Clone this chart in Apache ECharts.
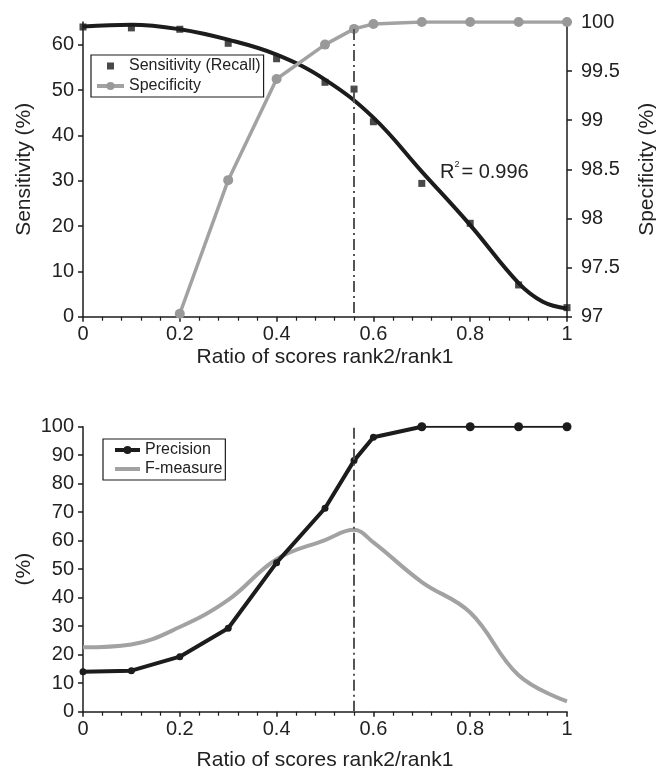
<!DOCTYPE html>
<html>
<head>
<meta charset="UTF-8">
<script src="https://cdn.jsdelivr.net/npm/echarts@6/dist/echarts.min.js"></script>
<style>
	html, body { margin: 0; padding: 0; background: #fff; }
	#main { width: 656px; height: 769px; }
</style>
<title>Sensitivity / Specificity / Precision</title>
</head>
<body>
<div id="main"></div>
<script type="text/javascript">
	// ratio of scores rank2/rank1
	var ratio = [0, 0.1, 0.2, 0.3, 0.4, 0.5, 0.56, 0.6, 0.7, 0.8, 0.9, 1];
	var sensitivity = [63.9, 63.7, 63.4, 60.3, 56.9, 51.7, 50.2, 43.0, 29.4, 20.6, 7.0, 2.0];
	var specificity = [null, null, 97.03, 98.39, 99.42, 99.77, 99.93, 99.98, 100, 100, 100, 100];
	var precision = [14.0, 14.4, 19.3, 29.3, 52.3, 71.4, 88.1, 96.3, 100, 100, 100, 100];
	var fmeasure = [22.6, 23.6, 29.7, 39.2, 53.5, 60.2, 63.8, 59.4, 45.5, 34.8, 12.8, 3.6];
	// fitted trend of sensitivity
	var fitX = [0, 0.1, 0.2, 0.3, 0.4, 0.5, 0.6, 0.7, 0.8, 0.9, 0.95, 1];
	var fitY = [64.0, 64.4, 63.4, 61.1, 57.8, 52.3, 43.9, 32.0, 20.2, 7.4, 3.3, 1.8];
	var cutoff = 0.56;
	var xTicks = [0, 0.2, 0.4, 0.6, 0.8, 1];
	var sensTicks = [0, 10, 20, 30, 40, 50, 60];

	function pairs(xs, ys) {
		var out = [];
		for (var i = 0; i < xs.length; i++) {
			if (ys[i] != null) out.push([xs[i], ys[i]]);
		}
		return out;
	}

	var FONT = '"Liberation Sans", Arial, Helvetica, sans-serif';
	var BLACK = '#1c1c1c';
	var GREY = '#a2a2a2';
	var axisLine = { show: true, lineStyle: { color: BLACK, width: 1.5 } };
	var label = { color: '#222', fontSize: 20, fontFamily: FONT };
	var nameStyle = { color: '#222', fontSize: 21, fontFamily: FONT };
	// small square marker inside a wider box, so the legend keeps it small
	var squareIcon = 'path://M0,0M10,10M1.5,1.5h7v7h-7z';
	// plain line, no marker
	var lineIcon = 'path://M0,0h25v4h-25z';

	function xAxisFor(grid, gap) {
		return {
			type: 'value', gridIndex: grid, min: 0, max: 1, interval: 0.2,
			name: 'Ratio of scores rank2/rank1', nameLocation: 'middle', nameGap: gap,
			nameTextStyle: nameStyle,
			axisLine: axisLine,
			axisTick: { show: true, length: 5, lineStyle: { color: BLACK, width: 1.5 } },
			minorTick: { show: true, splitNumber: 5, length: 4, lineStyle: { color: BLACK, width: 1.2 } },
			axisLabel: Object.assign({ margin: 8, customValues: xTicks }, label),
			splitLine: { show: false }
		};
	}

	var myChart = echarts.init(document.getElementById('main'));
	var cutIdx = ratio.indexOf(cutoff);

	var option = {
		animation: false,
		backgroundColor: '#fff',
		textStyle: { fontFamily: FONT },
		grid: [
			{ left: 83, right: 89, top: 22, height: 294.7, outerBoundsMode: 'none', containLabel: false },
			{ left: 83, right: 89, top: 426.7, height: 285, outerBoundsMode: 'none', containLabel: false }
		],
		legend: [
			{
				orient: 'vertical', left: 91, top: 55,
				data: [
					{ name: 'Sensitivity (Recall)', icon: squareIcon },
					{ name: 'Specificity', lineStyle: { width: 4 } }
				],
				borderColor: BLACK, borderWidth: 1.2, borderRadius: 0,
				padding: [3, 3, 3, 4], itemWidth: 27, itemHeight: 10, itemGap: 4, itemTextGap: 4,
				textStyle: { color: '#222', fontSize: 16, fontFamily: FONT },
				selectedMode: false
			},
			{
				orient: 'vertical', left: 103, top: 439,
				data: [
					{ name: 'Precision', lineStyle: { width: 4 } },
					{ name: 'F-measure', icon: lineIcon }
				],
				borderColor: BLACK, borderWidth: 1.2, borderRadius: 0,
				padding: [3, 3, 3, 10], itemWidth: 25, itemHeight: 10, itemGap: 3, itemTextGap: 10,
				textStyle: { color: '#222', fontSize: 16, fontFamily: FONT },
				selectedMode: false
			}
		],
		xAxis: [xAxisFor(0, 30), xAxisFor(1, 38)],
		yAxis: [
			{
				type: 'value', gridIndex: 0, min: 0, max: 65,
				name: 'Sensitivity (%)', nameLocation: 'middle', nameGap: 48, nameTextStyle: nameStyle,
				axisLine: axisLine,
				axisTick: { show: true, length: 5, customValues: sensTicks, lineStyle: { color: BLACK, width: 1.5 } },
				axisLabel: Object.assign({ margin: 9, customValues: sensTicks }, label),
				splitLine: { show: false }
			},
			{
				type: 'value', gridIndex: 0, position: 'right', min: 97, max: 100, interval: 0.5,
				name: 'Specificity (%)', nameLocation: 'middle', nameGap: 70, nameTextStyle: nameStyle,
				axisLine: axisLine,
				axisTick: { show: true, length: 5, lineStyle: { color: BLACK, width: 1.5 } },
				axisLabel: Object.assign({ margin: 14 }, label),
				splitLine: { show: false }
			},
			{
				type: 'value', gridIndex: 1, min: 0, max: 100, interval: 10,
				name: '(%)', nameLocation: 'middle', nameGap: 48, nameMoveOverlap: false,
				nameTextStyle: nameStyle,
				axisLine: axisLine,
				axisTick: { show: true, length: 5, lineStyle: { color: BLACK, width: 1.5 } },
				axisLabel: Object.assign({ margin: 9 }, label),
				splitLine: { show: false }
			}
		],
		graphic: [{
			type: 'text', left: 440, top: 160,
			style: {
				text: '{r|R}{s|2}{r|= 0.996}',
				rich: {
					r: { fontSize: 20, fontFamily: FONT, fill: '#222', lineHeight: 24 },
					s: { fontSize: 9, fontFamily: FONT, fill: '#222', verticalAlign: 'top', padding: [0, 2, 0, 0] }
				}
			}
		}],
		series: [
			{
				name: 'Fit', type: 'line', xAxisIndex: 0, yAxisIndex: 0,
				data: pairs(fitX, fitY), smooth: 0.4, symbol: 'none',
				lineStyle: { color: BLACK, width: 4 }, z: 2
			},
			{
				name: 'Sensitivity (Recall)', type: 'scatter', xAxisIndex: 0, yAxisIndex: 0,
				data: pairs(ratio, sensitivity), symbol: 'rect', symbolSize: 7,
				itemStyle: { color: BLACK }, z: 3
			},
			{
				name: 'Specificity', type: 'line', xAxisIndex: 0, yAxisIndex: 1,
				data: pairs(ratio, specificity), symbol: 'circle', symbolSize: 10, showSymbol: true,
				lineStyle: { color: GREY, width: 3.5 }, itemStyle: { color: '#999' }, z: 4,
				markLine: {
					silent: true, symbol: ['none', 'none'], label: { show: false },
					lineStyle: { color: '#555', width: 2, type: [11, 4, 2, 4] },
					data: [[{ coord: [cutoff, specificity[cutIdx]] }, { coord: [cutoff, 97] }]]
				}
			},
			{
				name: 'F-measure', type: 'line', xAxisIndex: 1, yAxisIndex: 2,
				data: pairs(ratio, fmeasure), smooth: 0.4, symbol: 'none',
				lineStyle: { color: GREY, width: 4 }, itemStyle: { color: GREY }, z: 2,
				markLine: {
					silent: true, symbol: ['none', 'none'], label: { show: false },
					lineStyle: { color: '#555', width: 2, type: [11, 4, 2, 4] },
					data: [{ xAxis: cutoff }]
				}
			},
			{
				name: 'Precision', type: 'line', xAxisIndex: 1, yAxisIndex: 2,
				data: pairs(ratio, precision).slice(0, 9), symbol: 'circle', symbolSize: 7,
				lineStyle: { color: BLACK, width: 4 }, itemStyle: { color: BLACK }, z: 3
			},
			{
				name: 'Precision tail', type: 'line', xAxisIndex: 1, yAxisIndex: 2,
				data: pairs(ratio, precision).slice(8), symbol: 'circle', symbolSize: 9,
				lineStyle: { color: BLACK, width: 2 }, itemStyle: { color: BLACK }, z: 3
			}
		]
	};
	myChart.setOption(option);
</script>
</body>
</html>
